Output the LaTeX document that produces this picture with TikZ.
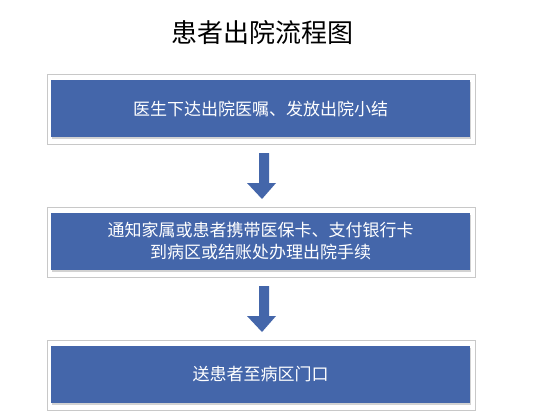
\documentclass[tikz,border=0pt]{standalone}
\usepackage{fontspec}
\setmainfont{Noto Sans CJK SC}
\usetikzlibrary{shapes.arrows,shadows}
\definecolor{boxblue}{RGB}{68,102,170}
\definecolor{framegray}{RGB}{200,200,200}
\begin{document}
\begin{tikzpicture}[x=1pt,y=-1pt,
  frame/.style={draw=framegray,line width=0.8pt,fill=white,minimum width=428pt,minimum height=70pt,inner sep=0pt},
  bluebox/.style={fill=boxblue,minimum width=419pt,minimum height=57pt,inner sep=0pt,text=white,font=\fontsize{17}{22}\selectfont,align=center,
    drop shadow={shadow xshift=1pt,shadow yshift=-1.5pt,opacity=0.35}}
]
\useasboundingbox (0,0) rectangle (538,415);
\node[font=\fontsize{26}{30}\selectfont] (title) at (262,33) {患者出院流程图};
\node[frame] (f1) at (261,109) {};
\node[bluebox] (b1) at (260.5,108.5) {医生下达出院医嘱、发放出院小结};
\node[frame] (f2) at (261,242) {};
\node[bluebox] (b2) at (260.5,241.5) {通知家属或患者携带医保卡、支付银行卡\\到病区或结账处办理出院手续};
\node[frame] (f3) at (261,375) {};
\node[bluebox] (b3) at (260.5,374.5) {送患者至病区门口};
\fill[boxblue] (259,153) -- (269,153) -- (269,183) -- (276,183) -- (262,199) -- (247,183) -- (259,183) -- cycle;
\fill[boxblue] (259,286) -- (269,286) -- (269,316) -- (276,316) -- (262,332) -- (247,316) -- (259,316) -- cycle;
\end{tikzpicture}
\end{document}
